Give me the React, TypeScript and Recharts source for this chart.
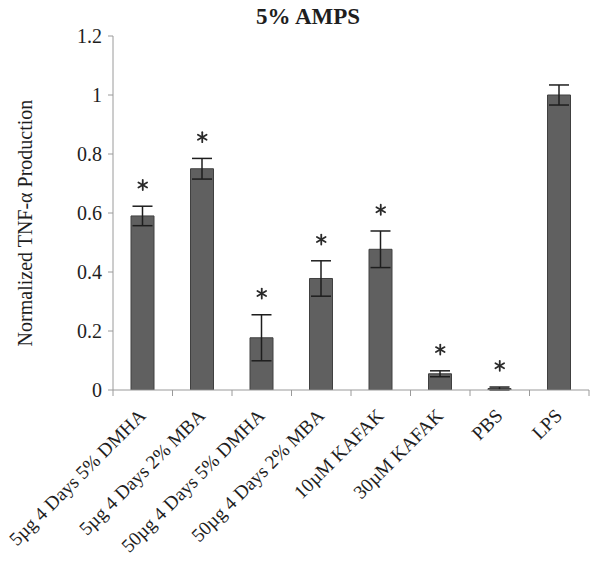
import React from 'react';
import { ComposedChart, Bar, XAxis, YAxis, ErrorBar, Scatter } from 'recharts';

const categories = [
  '5µg 4 Days 5% DMHA',
  '5µg 4 Days 2% MBA',
  '50µg 4 Days 5% DMHA',
  '50µg 4 Days 2% MBA',
  '10µM KAFAK',
  '30µM KAFAK',
  'PBS',
  'LPS',
];
const values = [0.59, 0.75, 0.177, 0.378, 0.477, 0.055, 0.005, 1.0];
const errors = [0.033, 0.035, 0.078, 0.06, 0.062, 0.01, 0.005, 0.034];
const significant = [true, true, true, true, true, true, true, false];
const yTicks = [0, 0.2, 0.4, 0.6, 0.8, 1, 1.2];
const STAR_GAP = 0.072;

const data = categories.map((name, i) => ({
  name,
  value: values[i],
  err: errors[i],
  star: significant[i] ? values[i] + errors[i] + STAR_GAP : null,
}));

const FONT = '"Liberation Serif", "Times New Roman", serif';
const AXIS_GREY = '#9a9a9a';

const CatTick = (props: any) => {
  const { x, y, payload, width, visibleTicksCount, index } = props;
  const band = width / visibleTicksCount;
  const lx = x - band / 2;
  const rx = x + band / 2;
  const isLast = index === visibleTicksCount - 1;
  const tx = x + 4;
  const ty = y + 21;
  return (
    <g>
      <line x1={lx} y1={y - 6} x2={lx} y2={y} stroke={AXIS_GREY} />
      {isLast && <line x1={rx} y1={y - 6} x2={rx} y2={y} stroke={AXIS_GREY} />}
      <text
        x={tx}
        y={ty}
        transform={`rotate(-45, ${tx}, ${ty})`}
        textAnchor="end"
        fontFamily={FONT}
        fontSize={19.3}
        fill="#1e1e1e"
      >
        {payload.value}
      </text>
    </g>
  );
};

const StarShape = (props: any) => {
  const { cx, cy } = props;
  if (!Number.isFinite(cx) || !Number.isFinite(cy)) return null;
  const r = 5;
  const dx = r * Math.cos(Math.PI / 6);
  const dy = r * Math.sin(Math.PI / 6);
  return (
    <g stroke="#2a2a2a" strokeWidth={1.8} strokeLinecap="round">
      <line x1={cx} y1={cy - r} x2={cx} y2={cy + r} />
      <line x1={cx - dx} y1={cy - dy} x2={cx + dx} y2={cy + dy} />
      <line x1={cx - dx} y1={cy + dy} x2={cx + dx} y2={cy - dy} />
    </g>
  );
};

export default function App() {
  return (
    <div style={{ position: 'absolute', left: 0, top: 0, width: 600, height: 567, background: '#fff' }}>
      <ComposedChart
        width={600}
        height={567}
        data={data}
        margin={{ top: 36, right: 11, left: 0, bottom: 0 }}
      >
        <text x={308} y={24} textAnchor="middle" fontFamily={FONT} fontSize={23} fontWeight="bold" fill="#1e1e1e">
          5% AMPS
        </text>
        <text
          x={32}
          y={223}
          transform="rotate(-90, 32, 223)"
          textAnchor="middle"
          fontFamily={FONT}
          fontSize={20}
          fill="#1e1e1e"
        >
          Normalized TNF-α Production
        </text>
        <XAxis
          dataKey="name"
          type="category"
          height={177}
          interval={0}
          tickSize={6}
          tickMargin={0}
          axisLine={{ stroke: AXIS_GREY }}
          tickLine={false}
          tick={<CatTick />}
        />
        <YAxis
          width={113}
          domain={[0, 1.2]}
          ticks={yTicks}
          tickSize={5}
          tickMargin={6}
          axisLine={{ stroke: AXIS_GREY }}
          tickLine={{ stroke: AXIS_GREY }}
          tick={{ fontFamily: FONT, fontSize: 20, fill: '#1e1e1e' }}
          allowDataOverflow
        />
        <Bar dataKey="value" fill="#606060" stroke="#404040" strokeWidth={1} barSize={23} isAnimationActive={false}>
          <ErrorBar dataKey="err" width={10} stroke="#1e1e1e" strokeWidth={1.5} />
        </Bar>
        <Scatter dataKey="star" shape={<StarShape />} isAnimationActive={false} />
      </ComposedChart>
    </div>
  );
}
